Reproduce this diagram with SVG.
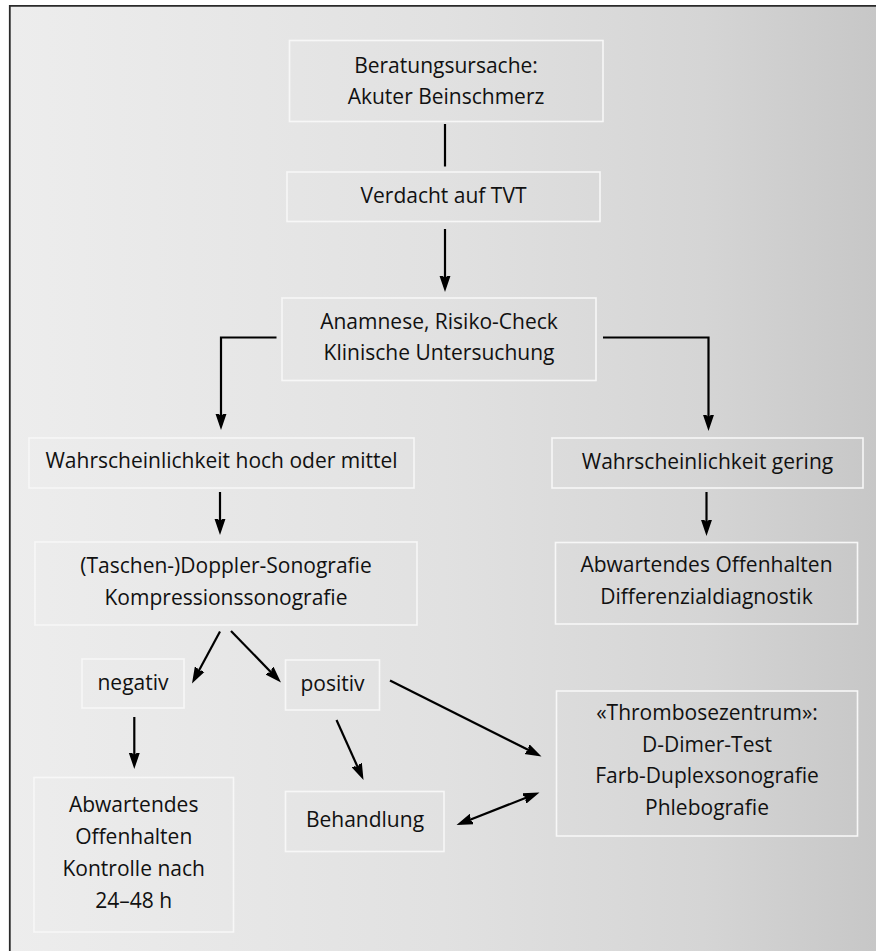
<svg xmlns="http://www.w3.org/2000/svg" width="876" height="951" viewBox="0 0 876 951">
<defs>
  <linearGradient id="bg" x1="0" y1="0" x2="1" y2="0">
    <stop offset="0" stop-color="#ededed"/>
    <stop offset="0.5" stop-color="#e1e1e1"/>
    <stop offset="0.8" stop-color="#d5d5d5"/>
    <stop offset="1" stop-color="#c7c7c7"/>
  </linearGradient>
  <marker id="ah" markerUnits="userSpaceOnUse" viewBox="-16 -8 22 16" refX="-5" refY="0" markerWidth="22" markerHeight="16" orient="auto-start-reverse">
    <path d="M0,0 L-20,-6.8 L-14,0 L-20,6.8 Z" fill="#000"/>
  </marker>
  <style>
    .box { fill: none; stroke: #f7f7f7; stroke-width: 1.6; }
    .t { font-family: "Open Sans", "Noto Sans", "Liberation Sans", sans-serif; font-size: 21px; fill: #111; text-anchor: middle; }
    .c { fill: none; stroke: #000; stroke-width: 2.2; }
    .a { marker-end: url(#ah); }
  </style>
</defs>
<rect x="0" y="0" width="876" height="951" fill="#fff"/>
<rect x="10" y="6" width="866" height="945" fill="url(#bg)"/>
<path d="M9.8,951 V5.8 H876" fill="none" stroke="#2a2a2a" stroke-width="1.8"/>

<g id="connectors">
  <line class="c" x1="445" y1="124" x2="445" y2="166.5"/>
  <line class="c a" x1="445" y1="229" x2="445" y2="287"/>
  <path class="c a" d="M276.5,337.5 H221 V425"/>
  <path class="c a" d="M603,337.5 H708.5 V426"/>
  <line class="c a" x1="220" y1="492" x2="220" y2="530"/>
  <line class="c a" x1="706.5" y1="492" x2="706.5" y2="531"/>
  <line class="c a" x1="220" y1="631.5" x2="194.37" y2="679.1"/>
  <line class="c a" x1="231" y1="631" x2="277.52" y2="678.91"/>
  <line class="c a" x1="134.3" y1="717" x2="134.3" y2="764"/>
  <line class="c a" x1="336.5" y1="720" x2="361.45" y2="775.44"/>
  <line class="c a" x1="390" y1="680.5" x2="537.03" y2="754.26"/>
  <line class="c a" style="marker-start:url(#ah)" x1="461.16" y1="823.18" x2="534.84" y2="794.32"/>
</g>

<g id="n1">
  <rect class="box" x="289.5" y="40.5" width="313.5" height="81"/>
  <text class="t" x="446" y="72.5">Beratungsursache:</text>
  <text class="t" x="446" y="103.5">Akuter Beinschmerz</text>
</g>
<g id="n2">
  <rect class="box" x="287" y="172" width="313" height="49.5"/>
  <text class="t" x="443.5" y="203">Verdacht auf TVT</text>
</g>
<g id="n3">
  <rect class="box" x="282" y="298" width="314" height="82.5"/>
  <text class="t" x="439" y="329">Anamnese, Risiko-Check</text>
  <text class="t" x="439" y="360">Klinische Untersuchung</text>
</g>
<g id="n4">
  <rect class="box" x="29" y="438" width="385" height="50"/>
  <text class="t" x="221.5" y="468">Wahrscheinlichkeit hoch oder mittel</text>
</g>
<g id="n5">
  <rect class="box" x="552" y="438" width="311" height="50"/>
  <text class="t" x="707.5" y="469">Wahrscheinlichkeit gering</text>
</g>
<g id="n6">
  <rect class="box" x="35" y="542" width="382" height="83"/>
  <text class="t" x="226" y="573">(Taschen-)Doppler-Sonografie</text>
  <text class="t" x="226" y="605">Kompressionssonografie</text>
</g>
<g id="n7">
  <rect class="box" x="555.5" y="542.5" width="302" height="81.5"/>
  <text class="t" x="706.5" y="572">Abwartendes Offenhalten</text>
  <text class="t" x="706.5" y="604">Differenzialdiagnostik</text>
</g>
<g id="n8">
  <rect class="box" x="82" y="659" width="102" height="49"/>
  <text class="t" x="133" y="690">negativ</text>
</g>
<g id="n9">
  <rect class="box" x="285.5" y="660" width="94" height="50"/>
  <text class="t" x="332.5" y="691">positiv</text>
</g>
<g id="n10">
  <rect class="box" x="34" y="777.5" width="199.5" height="154.5"/>
  <text class="t" x="133.7" y="812">Abwartendes</text>
  <text class="t" x="133.7" y="844">Offenhalten</text>
  <text class="t" x="133.7" y="876">Kontrolle nach</text>
  <text class="t" x="133.7" y="908">24–48 h</text>
</g>
<g id="n11">
  <rect class="box" x="285.5" y="791.5" width="158.5" height="60"/>
  <text class="t" x="365" y="827">Behandlung</text>
</g>
<g id="n12">
  <rect class="box" x="556.5" y="691" width="301" height="145"/>
  <text class="t" x="707" y="720">«Thrombosezentrum»:</text>
  <text class="t" x="707" y="752">D-Dimer-Test</text>
  <text class="t" x="707" y="783">Farb-Duplexsonografie</text>
  <text class="t" x="707" y="815">Phlebografie</text>
</g>
</svg>
